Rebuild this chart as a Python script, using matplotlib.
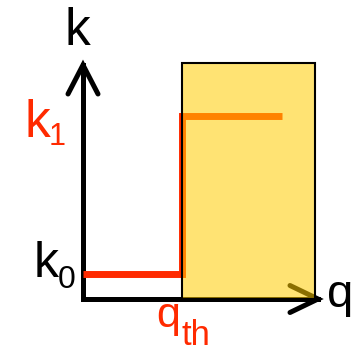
import matplotlib
matplotlib.use("Agg")
import matplotlib.pyplot as plt
from matplotlib.patches import Rectangle

# Threshold model: rate k jumps from k0 to k1 once q passes q_th
q_steps = [0.0, 0.423, 0.423, 0.847]
k_steps = [0.107, 0.107, 0.782, 0.782]
region_q = [0.421, 0.987]     # shaded region beyond the threshold
region_k = [0.0, 1.009]
axis_labels = ["q", "k"]
level_labels = [("k", "0"), ("k", "1")]
threshold_label = ("q", "th")

W, H, DPI = 356, 348, 100
ORIGIN_X, ORIGIN_Y = 83, 299      # origin in pixels from the top-left
SCALE_X, SCALE_Y = 235, 234       # pixels per unit

plt.rcParams["font.family"] = ["Liberation Sans", "DejaVu Sans"]

fig = plt.figure(figsize=(W / DPI, H / DPI), dpi=DPI)
ax = fig.add_axes([0, 0, 1, 1])
ax.set_xlim(-ORIGIN_X / SCALE_X, (W - ORIGIN_X) / SCALE_X)
ax.set_ylim(-(H - ORIGIN_Y) / SCALE_Y, ORIGIN_Y / SCALE_Y)
ax.axis("off")


def px(x, y):
    """Pixel position (from top-left) to data coordinates."""
    return (x - ORIGIN_X) / SCALE_X, (ORIGIN_Y - y) / SCALE_Y


RED = "#ff2a00"
AX_LW = 3.6

# axes with open arrowheads
ax.plot([0, 0], [0, 1], color="black", lw=AX_LW, solid_capstyle="projecting", zorder=1)
ax.plot([0, 1], [0, 0], color="black", lw=AX_LW, solid_capstyle="projecting", zorder=1)
hx, hy = 15 / SCALE_X, 29 / SCALE_Y
ax.plot([-hx, 0, hx], [1 - hy, 1, 1 - hy], color="black", lw=AX_LW,
        solid_capstyle="round", solid_joinstyle="miter", zorder=1)
hx, hy = 28 / SCALE_X, 13.5 / SCALE_Y
ax.plot([1 - hx, 1, 1 - hx], [hy, 0, -hy], color="black", lw=AX_LW,
        solid_capstyle="round", solid_joinstyle="miter", zorder=1)

# step function
ax.plot(q_steps, k_steps, color=RED, lw=5.0, solid_capstyle="butt",
        solid_joinstyle="miter", zorder=2)

# translucent region above threshold
ax.add_patch(Rectangle((region_q[0], region_k[0]), region_q[1] - region_q[0],
                       region_k[1] - region_k[0], facecolor=(1.0, 0.8, 0.0),
                       alpha=0.55, edgecolor="none", zorder=3))
ax.add_patch(Rectangle((region_q[0], region_k[0]), region_q[1] - region_q[0],
                       region_k[1] - region_k[0], fill=False,
                       edgecolor="black", lw=1.5, zorder=4))

# axis labels
ax.text(*px(77.5, 45), axis_labels[1], fontsize=37, ha="center", va="baseline", color="black")
ax.text(*px(327, 307), axis_labels[0], fontsize=34, ha="left", va="baseline", color="black")

# level labels
(k0a, k0b), (k1a, k1b) = level_labels
ax.text(*px(34, 277), k0a, fontsize=36, ha="left", va="baseline", color="black")
ax.text(*px(57.5, 288), k0b, fontsize=23, ha="left", va="baseline", color="black")
ax.text(*px(24, 137), k1a, fontsize=37, ha="left", va="baseline", color=RED)
ax.text(*px(49, 145), k1b, fontsize=22, ha="left", va="baseline", color=RED)

# threshold label
ax.text(*px(156, 327), threshold_label[0], fontsize=31, ha="left", va="baseline", color=RED)
ax.text(*px(182, 345), threshold_label[1], fontsize=25, ha="left", va="baseline", color=RED)

fig.savefig("out.png", dpi=DPI)
